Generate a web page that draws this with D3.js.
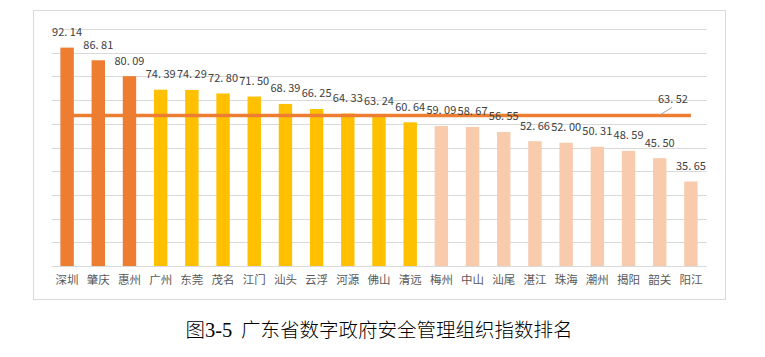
<!DOCTYPE html>
<html>
<head>
<meta charset="utf-8">
<script src="https://cdn.jsdelivr.net/npm/d3@7"></script>
<style>
  html, body { margin: 0; padding: 0; background: #fff; }
  svg { display: block; }
</style>
</head>
<body>
<svg id="chart" width="765" height="357"></svg>
<script>
const categories = ["深圳","肇庆","惠州","广州","东莞","茂名","江门","汕头","云浮","河源","佛山","清远","梅州","中山","汕尾","湛江","珠海","潮州","揭阳","韶关","阳江"];
const values = [92.14,86.81,80.09,74.39,74.29,72.80,71.50,68.39,66.25,64.33,63.24,60.64,59.09,58.67,56.55,52.66,52.00,50.31,48.59,45.50,35.65];
const groups = [1,1,1,2,2,2,2,2,2,2,2,2,3,3,3,3,3,3,3,3,3];
const average = 63.52;
const yTicks = [0,10,20,30,40,50,60,70,80,90,100];
const title = ["图", "3-5", "  广东省数字政府安全管理组织指数排名"];

const groupColor = {1: "#ED7D31", 2: "#FFC000", 3: "#F8CBAD"};

const svg = d3.select("#chart");

// outer frame
svg.append("rect").attr("x", 33.5).attr("y", 10.5).attr("width", 692).attr("height", 289)
  .attr("fill", "#fff").attr("stroke", "#D9D9D9").attr("stroke-width", 1);

const x = d3.scaleBand().domain(categories).range([51.5, 706.5]).paddingInner(0.57).paddingOuter(0.285);
const y = d3.scaleLinear().domain([0, 100]).range([266, 29]);

// gridlines
svg.append("g").selectAll("line").data(yTicks).join("line")
  .attr("x1", 51.5).attr("x2", 706.5)
  .attr("y1", d => Math.round(y(d)) + 0.5).attr("y2", d => Math.round(y(d)) + 0.5)
  .attr("stroke", "#D9D9D9").attr("stroke-width", 1);

// bars
svg.append("g").selectAll("rect").data(values).join("rect")
  .attr("x", (d, i) => x(categories[i]))
  .attr("width", x.bandwidth())
  .attr("y", d => y(d))
  .attr("height", d => y(0) - y(d))
  .attr("fill", (d, i) => groupColor[groups[i]]);

// average line
const line = d3.line().x(d => x(d) + x.bandwidth() / 2).y(() => y(average));
svg.append("path").datum(categories).attr("d", line)
  .attr("fill", "none").attr("stroke", "#ED7D31").attr("stroke-width", 3.5);

const fmt = d => d.toFixed(2).replace(".", ". ");

// value labels
svg.append("g").selectAll("text").data(values).join("text")
  .attr("x", (d, i) => x(categories[i]) + x.bandwidth() / 2)
  .attr("y", d => y(d) - 11.5)
  .attr("text-anchor", "middle")
  .attr("font-family", "'Noto Sans CJK SC', 'Noto Sans', sans-serif")
  .attr("font-size", 11)
  .attr("fill", "#404040")
  .style("white-space", "pre")
  .text(d => fmt(d));

// average label with leader
const lastX = x(categories[categories.length - 1]) + x.bandwidth() / 2;
svg.append("line")
  .attr("x1", lastX - 31).attr("y1", y(average) - 0.5)
  .attr("x2", lastX - 19).attr("y2", y(average) - 8)
  .attr("stroke", "#A6A6A6").attr("stroke-width", 1);
svg.append("text")
  .attr("x", lastX - 18).attr("y", y(average) - 12.5)
  .attr("text-anchor", "middle")
  .attr("font-family", "'Noto Sans CJK SC', 'Noto Sans', sans-serif")
  .attr("font-size", 11)
  .attr("fill", "#404040")
  .style("white-space", "pre")
  .text(fmt(average));

// x axis labels
const xAxis = d3.axisBottom(x).tickSize(0).tickPadding(10);
const gx = svg.append("g").attr("transform", `translate(0,${y(0)})`).call(xAxis);
gx.select(".domain").remove();
gx.selectAll("text")
  .attr("font-family", "'Noto Sans CJK SC', sans-serif")
  .attr("font-size", 11.5)
  .attr("fill", "#595959");

// title
const t = svg.append("text").attr("x", 379).attr("y", 337).attr("text-anchor", "middle")
  .attr("font-size", 19.5).attr("font-weight", 300).attr("fill", "#000");
t.append("tspan").attr("font-family", "'Noto Sans CJK SC', sans-serif").text(title[0]);
t.append("tspan").attr("font-family", "'Liberation Serif', serif").attr("font-size", 20.5).attr("font-weight", 400).text(title[1]);
t.append("tspan").attr("font-family", "'Noto Sans CJK SC', sans-serif").style("white-space", "pre").text(title[2]);
</script>
</body>
</html>
